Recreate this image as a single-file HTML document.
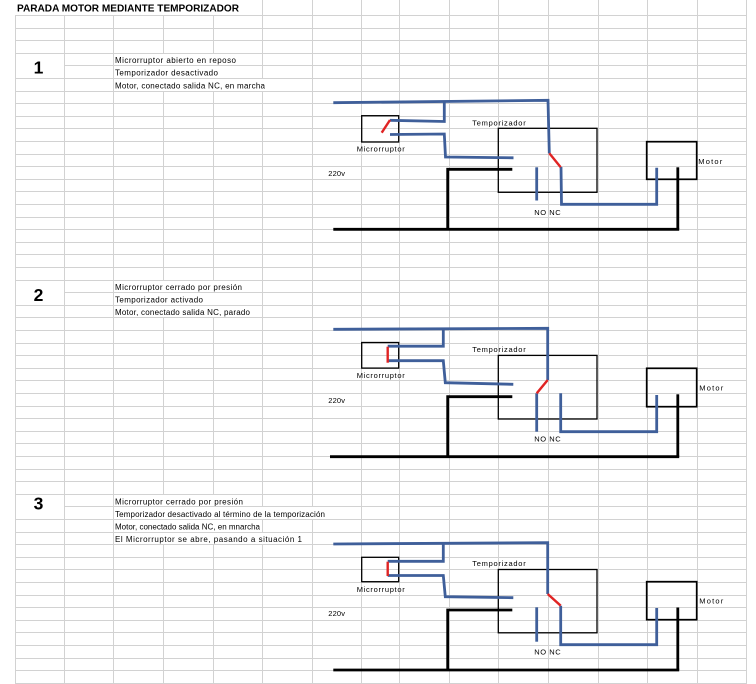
<!DOCTYPE html>
<html>
<head>
<meta charset="utf-8">
<style>
  html,body{margin:0;padding:0;background:#fff;}
  body{width:756px;height:684px;overflow:hidden;}
  svg{display:block;}
  .t{font-family:"Liberation Sans",Arial,sans-serif;fill:#000;}
</style>
</head>
<body>
<svg width="756" height="684" viewBox="0 0 756 684" xmlns="http://www.w3.org/2000/svg">
  <rect x="0" y="0" width="756" height="684" fill="#fff"/>
  <!-- grid horizontal -->
  <path stroke="#d2d2d2" stroke-width="1" fill="none" d="
  M15 15.5H747 M15 28.5H747 M15 40.5H747 M15 53.5H747 M15 65.5H747 M15 78.5H747 M15 91.5H747
  M15 103.5H747 M15 116.5H747 M15 128.5H747 M15 141.5H747 M15 154.5H747 M15 166.5H747 M15 179.5H747
  M15 191.5H747 M15 204.5H747 M15 217.5H747 M15 229.5H747 M15 242.5H747 M15 254.5H747 M15 267.5H747
  M15 280.5H747 M15 292.5H747 M15 305.5H747 M15 317.5H747 M15 330.5H747 M15 343.5H747 M15 355.5H747
  M15 368.5H747 M15 380.5H747 M15 393.5H747 M15 406.5H747 M15 418.5H747 M15 431.5H747 M15 443.5H747
  M15 456.5H747 M15 469.5H747 M15 481.5H747 M15 494.5H747 M15 506.5H747 M15 519.5H747 M15 532.5H747
  M15 544.5H747 M15 557.5H747 M15 569.5H747 M15 582.5H747 M15 595.5H747 M15 607.5H747 M15 620.5H747
  M15 632.5H747 M15 645.5H747 M15 658.5H747 M15 670.5H747 M15 683.5H747"/>
  <!-- grid vertical -->
  <path stroke="#d2d2d2" stroke-width="1" fill="none" d="
  M15.5 15V684 M64.5 15V684 M113.5 15V684 M163.5 15V684 M213.5 15V684
  M262.5 0V684 M312.5 0V684 M361.5 0V684 M399.5 0V684 M449.5 0V684 M498.5 0V684
  M548.5 0V684 M598.5 0V684 M647.5 0V684 M697.5 0V684 M746.5 0V684"/>

  <!-- hidden gridlines under overflowing text -->
  <g fill="#fff">
    <rect x="114" y="54" width="148" height="11"/>
    <rect x="114" y="66" width="148" height="12"/>
    <rect x="114" y="79" width="198" height="12"/>
    <rect x="114" y="281" width="148" height="11"/>
    <rect x="114" y="293" width="148" height="12"/>
    <rect x="114" y="306" width="148" height="11"/>
    <rect x="114" y="495" width="148" height="11"/>
    <rect x="114" y="507" width="247" height="12"/>
    <rect x="114" y="520" width="148" height="12"/>
    <rect x="114" y="533" width="198" height="11"/>
    <!-- merged number cells -->
    <rect x="16" y="65" width="48" height="1"/>
    <rect x="16" y="292" width="48" height="1"/>
    <rect x="16" y="506" width="48" height="1"/>
  </g>

  <!-- title -->
  <text class="t" x="17" y="11.7" font-size="10" font-weight="bold" textLength="222" lengthAdjust="spacingAndGlyphs">PARADA MOTOR MEDIANTE TEMPORIZADOR</text>

  <!-- numbers -->
  <text class="t" x="38.5" y="73.3" font-size="17.5" font-weight="bold" text-anchor="middle">1</text>
  <text class="t" x="38.5" y="301" font-size="17.5" font-weight="bold" text-anchor="middle">2</text>
  <text class="t" x="38.5" y="509.3" font-size="17.5" font-weight="bold" text-anchor="middle">3</text>

  <!-- descriptions -->
  <g class="t" font-size="8">
    <text class="t" x="115" y="63" textLength="121" lengthAdjust="spacing">Microrruptor abierto en reposo</text>
    <text class="t" x="115" y="75.7" textLength="103" lengthAdjust="spacing">Temporizador desactivado</text>
    <text class="t" x="115" y="88.3" textLength="150" lengthAdjust="spacing">Motor, conectado salida NC, en marcha</text>

    <text class="t" x="115" y="290" textLength="127" lengthAdjust="spacing">Microrruptor cerrado por presión</text>
    <text class="t" x="115" y="302.6" textLength="88" lengthAdjust="spacing">Temporizador activado</text>
    <text class="t" x="115" y="315.2" textLength="135" lengthAdjust="spacing">Motor, conectado salida NC, parado</text>

    <text class="t" x="115" y="504.3" textLength="128" lengthAdjust="spacing">Microrruptor cerrado por presión</text>
    <text class="t" x="115" y="516.9" textLength="210" lengthAdjust="spacing">Temporizador desactivado al término de la temporización</text>
    <text class="t" x="115" y="529.5" textLength="145" lengthAdjust="spacing">Motor, conectado salida NC, en mnarcha</text>
    <text class="t" x="115" y="542.1" textLength="187" lengthAdjust="spacing">El Microrruptor se abre, pasando a situación 1</text>
  </g>

  <!-- ================= DIAGRAM 1 ================= -->
  <g id="d1">
    <rect x="361.7" y="115.7" width="37" height="26.3" fill="none" stroke="#000" stroke-width="1.3"/>
    <rect x="498.3" y="128.3" width="98.7" height="64" fill="none" stroke="#000" stroke-width="1.3"/>
    <rect x="646.7" y="141.7" width="50" height="37.6" fill="none" stroke="#000" stroke-width="1.7"/>
    <g fill="none" stroke="#3f5f9a" stroke-width="2.8">
      <path d="M333.3,102.7 L548,100.3 L549.3,153.3"/>
      <path d="M444.3,102.5 V121.5 L390,120.3"/>
      <path d="M390,134.5 L444.3,134 L445.5,157 L513.5,157.8"/>
      <path d="M536.7,167.3 V200.5"/>
      <path d="M561,167 L561.5,204.3 H656.7 V167.7"/>
    </g>
    <g fill="none" stroke="#000" stroke-width="2.8">
      <path d="M447.7,229.3 V169.3 H512.3"/>
      <path d="M333.3,229.3 H679.2"/>
      <path d="M677.8,229.3 V167.3"/>
    </g>
    <g fill="none" stroke="#e02424" stroke-width="2.4">
      <path d="M381.7,132.7 L390,120"/>
      <path d="M549.3,153.3 L560.7,167.3"/>
    </g>
    <g class="t" font-size="7.5">
      <text class="t" x="472.3" y="125.5" textLength="53.4" lengthAdjust="spacing">Temporizador</text>
      <text class="t" x="356.7" y="151.5" textLength="48" lengthAdjust="spacing">Microrruptor</text>
      <text class="t" x="328.3" y="176" textLength="16.7" lengthAdjust="spacing">220v</text>
      <text class="t" x="534.3" y="215" textLength="26.4" lengthAdjust="spacing">NO NC</text>
      <text class="t" x="698.3" y="164" textLength="24" lengthAdjust="spacing">Motor</text>
    </g>
  </g>

  <!-- ================= DIAGRAM 2 ================= -->
  <g transform="translate(0,226.8)">
    <rect x="361.7" y="115.7" width="37" height="25.6" fill="none" stroke="#000" stroke-width="1.3"/>
    <rect x="498.3" y="128.6" width="98.7" height="63.6" fill="none" stroke="#000" stroke-width="1.3"/>
    <rect x="646.7" y="141.5" width="50" height="38.4" fill="none" stroke="#000" stroke-width="1.7"/>
    <g fill="none" stroke="#3f5f9a" stroke-width="2.8">
      <path d="M333.3,102.5 L547.7,101.5 V153.2"/>
      <path d="M443.3,102.3 V119.4 H387.7"/>
      <path d="M387.7,133.9 H443.3 L445.3,155.9 L513.3,157.5"/>
      <path d="M536.7,166.5 V204.9"/>
      <path d="M560.7,166.5 V204.9 H656.7 V168.2"/>
    </g>
    <g fill="none" stroke="#000" stroke-width="2.8">
      <path d="M447.7,229.9 V169.9 H512.3"/>
      <path d="M330,229.9 H679.2"/>
      <path d="M677.8,229.9 V167.5"/>
    </g>
    <g fill="none" stroke="#e02424" stroke-width="2.4">
      <path d="M387.7,119.9 V135.9"/>
      <path d="M547.7,153.2 L536.7,166.5"/>
    </g>
    <g class="t" font-size="7.5">
      <text class="t" x="472.3" y="125" textLength="53.4" lengthAdjust="spacing">Temporizador</text>
      <text class="t" x="356.7" y="151" textLength="48" lengthAdjust="spacing">Microrruptor</text>
      <text class="t" x="328.3" y="176" textLength="16.7" lengthAdjust="spacing">220v</text>
      <text class="t" x="534.3" y="214.7" textLength="26.4" lengthAdjust="spacing">NO NC</text>
      <text class="t" x="699.3" y="163.5" textLength="24" lengthAdjust="spacing">Motor</text>
    </g>
  </g>

  <!-- ================= DIAGRAM 3 ================= -->
  <g transform="translate(0,441)">
    <rect x="361.7" y="116.3" width="37" height="24.4" fill="none" stroke="#000" stroke-width="1.3"/>
    <rect x="498.3" y="128.5" width="98.7" height="63.3" fill="none" stroke="#000" stroke-width="1.3"/>
    <rect x="646.7" y="140.7" width="50" height="38" fill="none" stroke="#000" stroke-width="1.7"/>
    <g fill="none" stroke="#3f5f9a" stroke-width="2.8">
      <path d="M333.3,103 L547.7,101.7 V153"/>
      <path d="M443.3,102.5 V120.3 H387.7"/>
      <path d="M387.7,134.5 H443.3 L445.3,155.7 L513.3,156.7"/>
      <path d="M536.7,166.3 V200.7"/>
      <path d="M560.7,164.7 V203.7 H656.7 V167"/>
    </g>
    <g fill="none" stroke="#000" stroke-width="2.8">
      <path d="M447.7,229 V169 H512.3"/>
      <path d="M333.3,229 H679.2"/>
      <path d="M677.8,229 V166.5"/>
    </g>
    <g fill="none" stroke="#e02424" stroke-width="2.4">
      <path d="M387.7,120.7 V135"/>
      <path d="M547.7,153 L560.7,164.7"/>
    </g>
    <g class="t" font-size="7.5">
      <text class="t" x="472.3" y="124.8" textLength="53.4" lengthAdjust="spacing">Temporizador</text>
      <text class="t" x="356.7" y="151" textLength="48" lengthAdjust="spacing">Microrruptor</text>
      <text class="t" x="328.3" y="175" textLength="16.7" lengthAdjust="spacing">220v</text>
      <text class="t" x="534.3" y="213.5" textLength="26.4" lengthAdjust="spacing">NO NC</text>
      <text class="t" x="699.3" y="162.5" textLength="24" lengthAdjust="spacing">Motor</text>
    </g>
  </g>
</svg>
</body>
</html>
